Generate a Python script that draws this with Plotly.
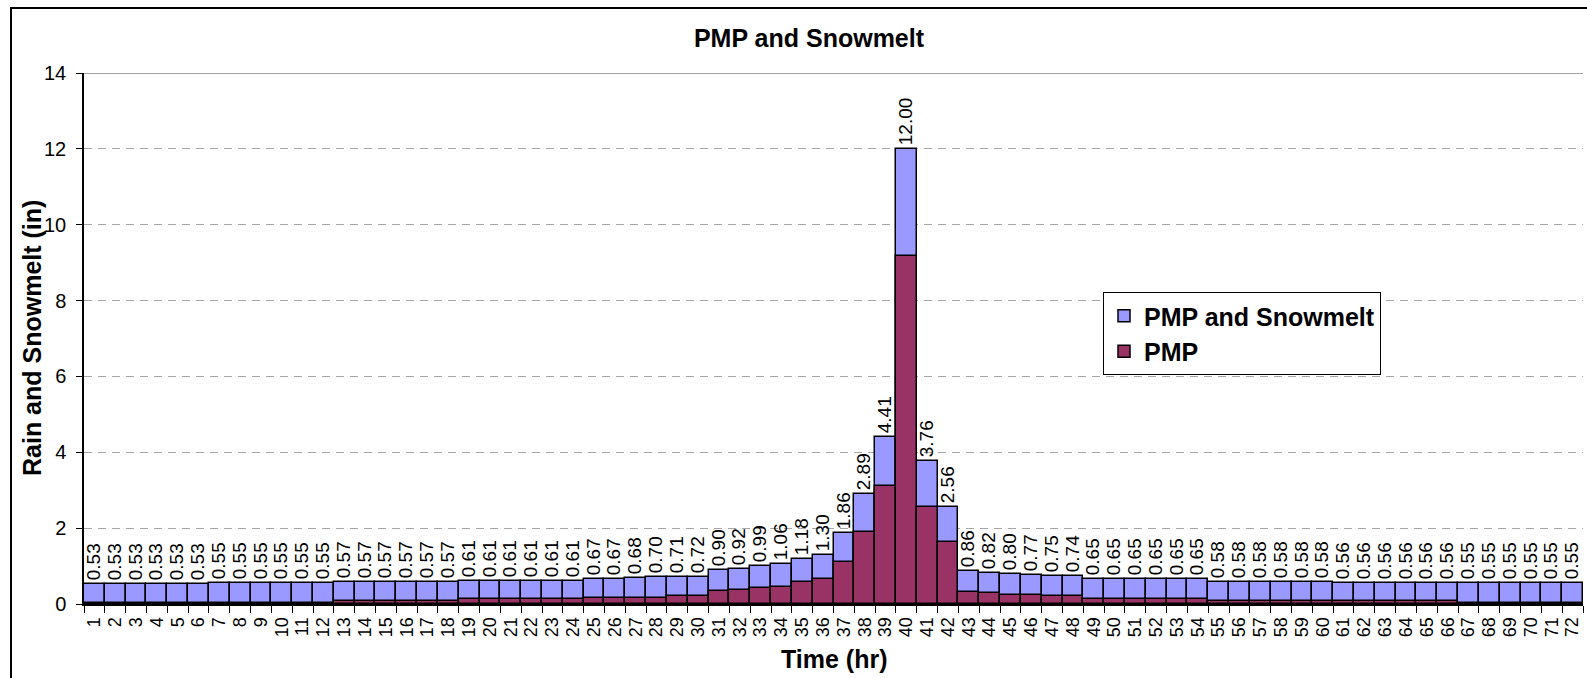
import plotly.graph_objects as go

# Hours 1..72
hours = [str(h) for h in range(1, 73)]

# Total hourly depth: PMP plus snowmelt (in)
pmp_and_snowmelt = (
    [0.53] * 6 + [0.55] * 6 + [0.57] * 6 + [0.61] * 6
    + [0.67, 0.67, 0.68, 0.70, 0.71, 0.72, 0.90, 0.92, 0.99, 1.06, 1.18, 1.30,
       1.86, 2.89, 4.41, 12.00, 3.76, 2.56, 0.86, 0.82, 0.80, 0.77, 0.75, 0.74]
    + [0.65] * 6 + [0.58] * 6 + [0.56] * 6 + [0.55] * 6
)

# PMP rainfall alone (in)
pmp = (
    [0.03] * 12 + [0.08] * 6 + [0.12] * 6
    + [0.17, 0.17, 0.17, 0.17, 0.22, 0.22, 0.34, 0.38, 0.42, 0.46, 0.58, 0.65,
       1.10, 1.89, 3.10, 9.17, 2.57, 1.64, 0.32, 0.28, 0.23, 0.24, 0.20, 0.20]
    + [0.12] * 6 + [0.07] * 12 + [0.03] * 6
)

W, H = 1587, 678
ML, MR, MT, MB = 84, 4, 73, 74
PW, PH = W - ML - MR, H - MT - MB


def px_x(p):
    return (p - ML) / PW


def px_y(p):
    return (H - MB - p) / PH


font = "Liberation Sans, Arial, sans-serif"

fig = go.Figure()
fig.add_trace(go.Bar(
    x=hours, y=pmp_and_snowmelt, name="<b>PMP and Snowmelt</b>",
    marker=dict(color="#9999FF", line=dict(color="black", width=1.5)),
    text=[f"{v:.2f}" for v in pmp_and_snowmelt],
    textposition="outside", textangle=-90, constraintext="none",
    textfont=dict(family=font, size=19, color="black"),
    cliponaxis=False,
))
fig.add_trace(go.Bar(
    x=hours, y=pmp, name="<b>PMP</b>",
    marker=dict(color="#993366", line=dict(color="black", width=1.5)),
))

fig.update_layout(
    width=W, height=H,
    margin=dict(l=ML, r=MR, t=MT, b=MB),
    barmode="overlay", bargap=0,
    plot_bgcolor="white", paper_bgcolor="white",
    font=dict(family=font, color="black"),
    title=dict(text="<b>PMP and Snowmelt</b>", x=809 / W, xanchor="center",
               y=1 - 38 / H, yanchor="middle",
               font=dict(family=font, size=25, color="black")),
    legend=dict(x=px_x(1103), y=px_y(292), xanchor="left", yanchor="top",
                bgcolor="white", bordercolor="black", borderwidth=1,
                font=dict(family=font, size=25, color="black"),
                itemwidth=30),
    showlegend=True,
)

fig.update_xaxes(
    type="category", tickangle=-90, tickson="boundaries",
    tickmode="array", tickvals=hours, ticktext=hours,
    ticks="outside", ticklen=7, tickcolor="black",
    showline=True, linecolor="black", linewidth=2,
    tickfont=dict(family=font, size=18, color="black"),
    ticklabelstandoff=4,
    showgrid=False,
)
fig.update_yaxes(
    range=[0, 14], dtick=2, ticks="outside", ticklen=6, tickcolor="black",
    showline=True, linecolor="black", linewidth=1.5,
    showgrid=True, gridcolor="#a6a6a6", griddash="8px,6px", gridwidth=1,
    tickfont=dict(family=font, size=20, color="black"),
    ticklabelstandoff=6,
    zeroline=False,
)

# plot-area top edge at 14
fig.add_shape(type="line", xref="paper", yref="y", x0=0, x1=1, y0=14, y1=14,
              line=dict(color="#808080", width=1.5))

# outer chart frame
fig.add_shape(type="rect", xref="paper", yref="paper",
              x0=px_x(11), x1=px_x(W + 20), y0=px_y(8), y1=px_y(H + 20),
              line=dict(color="black", width=2), layer="below")

# axis titles
fig.add_annotation(text="<b>Time (hr)</b>", xref="paper", yref="paper",
                   x=px_x(834), y=px_y(659), showarrow=False,
                   xanchor="center", yanchor="middle",
                   font=dict(family=font, size=25, color="black"))
fig.add_annotation(text="<b>Rain and Snowmelt (in)</b>", xref="paper", yref="paper",
                   x=px_x(32), y=px_y(338), showarrow=False, textangle=-90,
                   xanchor="center", yanchor="middle",
                   font=dict(family=font, size=25, color="black"))

fig.write_html("out.html")
